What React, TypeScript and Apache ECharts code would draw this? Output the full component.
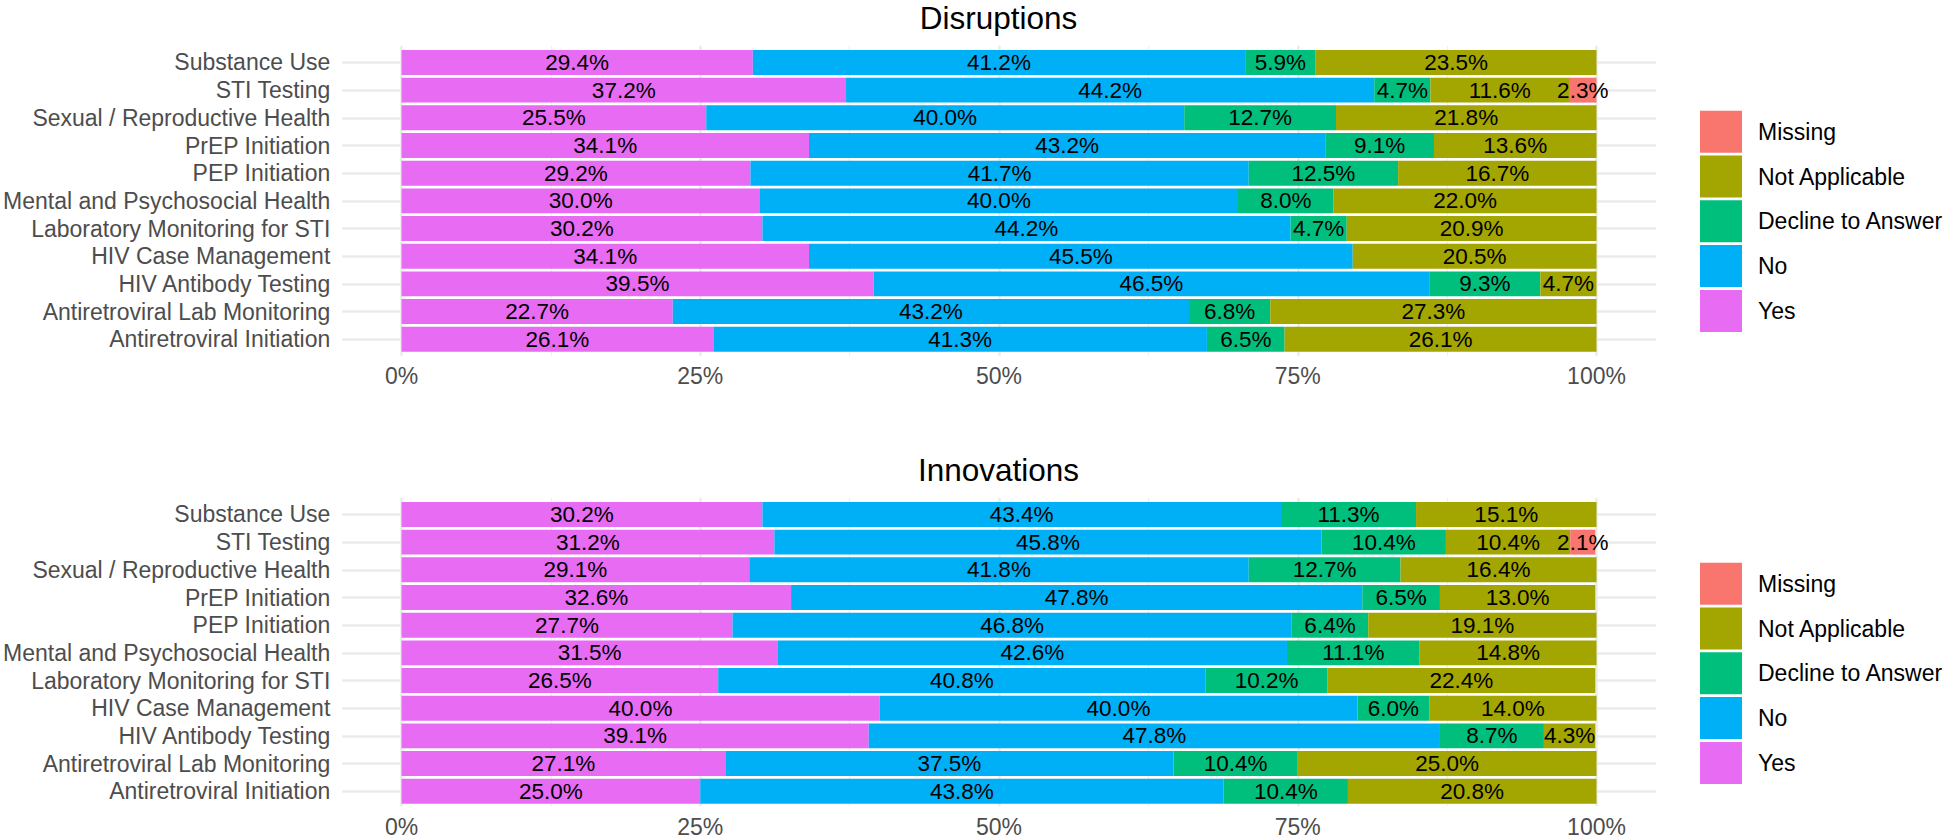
import React, { useEffect, useRef } from "react";
import * as echarts from "echarts";

const categories = [
  "Substance Use",
  "STI Testing",
  "Sexual / Reproductive Health",
  "PrEP Initiation",
  "PEP Initiation",
  "Mental and Psychosocial Health",
  "Laboratory Monitoring for STI",
  "HIV Case Management",
  "HIV Antibody Testing",
  "Antiretroviral Lab Monitoring",
  "Antiretroviral Initiation",
];

const responses = ["Yes", "No", "Decline to Answer", "Not Applicable", "Missing"];
const legendOrder = ["Missing", "Not Applicable", "Decline to Answer", "No", "Yes"];
const colors = ["#E76BF3", "#00B0F6", "#00BF7D", "#A3A500", "#F8766D"];
const xTicks = [0, 25, 50, 75, 100];
const panelTitles = ["Disruptions", "Innovations"];

// Disruptions (% per category, top to bottom)
const disYes = [29.4, 37.2, 25.5, 34.1, 29.2, 30.0, 30.2, 34.1, 39.5, 22.7, 26.1];
const disNo = [41.2, 44.2, 40.0, 43.2, 41.7, 40.0, 44.2, 45.5, 46.5, 43.2, 41.3];
const disDecline = [5.9, 4.7, 12.7, 9.1, 12.5, 8.0, 4.7, 0, 9.3, 6.8, 6.5];
const disNA = [23.5, 11.6, 21.8, 13.6, 16.7, 22.0, 20.9, 20.5, 4.7, 27.3, 26.1];
const disMissing = [0, 2.3, 0, 0, 0, 0, 0, 0, 0, 0, 0];

// Innovations
const innYes = [30.2, 31.2, 29.1, 32.6, 27.7, 31.5, 26.5, 40.0, 39.1, 27.1, 25.0];
const innNo = [43.4, 45.8, 41.8, 47.8, 46.8, 42.6, 40.8, 40.0, 47.8, 37.5, 43.8];
const innDecline = [11.3, 10.4, 12.7, 6.5, 6.4, 11.1, 10.2, 6.0, 8.7, 10.4, 10.4];
const innNA = [15.1, 10.4, 16.4, 13.0, 19.1, 14.8, 22.4, 14.0, 4.3, 25.0, 20.8];
const innMissing = [0, 2.1, 0, 0, 0, 0, 0, 0, 0, 0, 0];

const panelData = [
  [disYes, disNo, disDecline, disNA, disMissing],
  [innYes, innNo, innDecline, innNA, innMissing],
];

const FONT = "'Liberation Sans', Arial, Helvetica, sans-serif";

export default function App() {
  const ref = useRef<HTMLDivElement>(null);

  useEffect(() => {
    if (!ref.current) return;
    const chart = echarts.init(ref.current, null, { renderer: "svg" });

    const P = 27.68; // row pitch
    const plotLeft = 401.5;
    const plotWidth = 1195;
    const panelLeft = 341;
    const panelWidth = 1315;
    const firstCenter = 62.46;
    const offset = 452;

    const grids: any[] = [];
    const xAxes: any[] = [];
    const yAxes: any[] = [];
    const series: any[] = [];
    const legends: any[] = [];
    const graphics: any[] = [];

    for (let p = 0; p < 2; p++) {
      const c0 = firstCenter + p * offset;
      const panelTop = c0 - 0.6 * P;
      const panelHeight = 11.2 * P;
      const base = p * 3;

      // grid A: vertical gridlines + x labels
      grids.push({ left: plotLeft, width: plotWidth, top: panelTop, height: panelHeight, containLabel: false });
      xAxes.push({
        gridIndex: base,
        type: "value",
        min: xTicks[0],
        max: xTicks[xTicks.length - 1],
        interval: 25,
        axisLine: { show: false },
        axisTick: { show: false },
        axisLabel: {
          show: true,
          formatter: "{value}%",
          color: "#4D4D4D",
          fontSize: 23,
          fontFamily: FONT,
          margin: 9,
        },
        splitLine: { show: true, lineStyle: { color: "#EBEBEB", width: 2.5 } },
        minorTick: { show: false, splitNumber: 2 },
        minorSplitLine: { show: true, lineStyle: { color: "#EFEFEF", width: 1.3 } },
      });
      yAxes.push({ gridIndex: base, type: "value", show: false, min: 0, max: 1 });

      // grid B: horizontal gridlines + y labels
      grids.push({ left: panelLeft, width: panelWidth, top: c0, height: 10 * P, containLabel: false });
      xAxes.push({ gridIndex: base + 1, type: "value", show: false, min: 0, max: 1, splitLine: { show: false } });
      yAxes.push({
        gridIndex: base + 1,
        type: "category",
        data: categories,
        inverse: true,
        boundaryGap: false,
        axisLine: { show: false },
        axisTick: { show: false },
        axisLabel: {
          show: true,
          color: "#4D4D4D",
          fontSize: 23,
          fontFamily: FONT,
          margin: 12,
          interval: 0,
        },
        splitLine: { show: true, interval: 0, lineStyle: { color: "#EBEBEB", width: 2.5 } },
      });

      // grid C: bars
      grids.push({ left: plotLeft, width: plotWidth, top: c0 - 0.5 * P, height: 11 * P, containLabel: false });
      xAxes.push({
        gridIndex: base + 2,
        type: "value",
        min: 0,
        max: 100,
        show: false,
        splitLine: { show: false },
      });
      yAxes.push({
        gridIndex: base + 2,
        type: "category",
        data: categories,
        inverse: true,
        show: false,
      });

      responses.forEach((name, i) => {
        series.push({
          type: "bar",
          name,
          xAxisIndex: base + 2,
          yAxisIndex: base + 2,
          stack: "panel" + p,
          barCategoryGap: "10%",
          data: panelData[p][i],
          itemStyle: { color: colors[i] },
          label: {
            show: true,
            position: "inside",
            color: "#000000",
            fontSize: 22.5,
            fontFamily: FONT,
            formatter: (d: any) => (d.value > 0 ? d.value.toFixed(1) + "%" : ""),
          },
          emphasis: { disabled: true },
        });
      });

      legends.push({
        orient: "vertical",
        left: 1700,
        top: 110.7 + p * offset,
        padding: 0,
        itemWidth: 42,
        itemHeight: 42,
        itemGap: 2.8,
        icon: "rect",
        data: legendOrder,
        selectedMode: false,
        textStyle: {
          color: "#000000",
          fontSize: 23,
          fontFamily: FONT,
          padding: [0, 0, 0, 11],
        },
      });

      graphics.push({
        type: "text",
        x: panelLeft + panelWidth / 2,
        y: 17.5 + p * offset,
        style: {
          text: panelTitles[p],
          fontSize: 31.5,
          lineHeight: 32,
          fontFamily: FONT,
          fill: "#000000",
          textAlign: "center",
          textVerticalAlign: "middle",
        },
      });
    }

    chart.setOption({
      animation: false,
      backgroundColor: "#FFFFFF",
      grid: grids,
      xAxis: xAxes,
      yAxis: yAxes,
      series,
      legend: legends,
      graphic: graphics,
    });

    return () => {
      chart.dispose();
    };
  }, []);

  return (
    <div
      ref={ref}
      style={{ position: "fixed", left: 0, top: 0, width: 1946, height: 838, background: "#FFFFFF" }}
    />
  );
}
